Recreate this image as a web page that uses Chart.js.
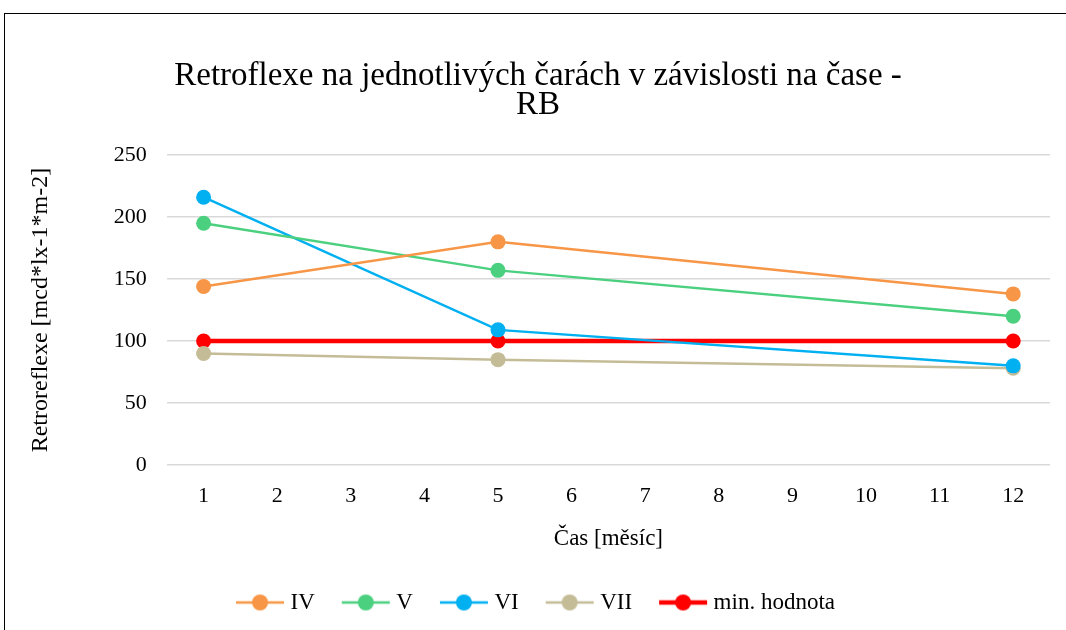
<!DOCTYPE html>
<html>
<head>
<meta charset="utf-8">
<script src="https://cdn.jsdelivr.net/npm/chart.js@4"></script>
<style>
  html, body { margin: 0; padding: 0; background: #fff; }
  #wrap { position: relative; width: 1066px; height: 630px; overflow: hidden; }
  #frame { position: absolute; left: 4px; top: 13px; width: 1100px; height: 700px; border: 1.5px solid #000; pointer-events: none; }
</style>
</head>
<body>
<div id="wrap">
  <canvas id="chart" width="1066" height="630"></canvas>
  <div id="frame"></div>
</div>
<script>
// months on the x axis, values only measured in months 1, 5 and 12
const months = ['1', '2', '3', '4', '5', '6', '7', '8', '9', '10', '11', '12'];
const seriesIV = [144, null, null, null, 180, null, null, null, null, null, null, 138];
const seriesV = [195, null, null, null, 157, null, null, null, null, null, null, 120];
const seriesVI = [216, null, null, null, 109, null, null, null, null, null, null, 80];
const seriesVII = [90, null, null, null, 85, null, null, null, null, null, null, 78];
const minValue = [100, null, null, null, 100, null, null, null, null, null, null, 100];
const yTicks = [0, 50, 100, 150, 200, 250];

const font = 'Liberation Serif, Times New Roman, serif';

// small line + dot icon for the legend
function legendIcon(color, lw) {
    const c = document.createElement('canvas');
    c.width = 50; c.height = 18;
    const g = c.getContext('2d');
    g.strokeStyle = color;
    g.lineWidth = lw;
    g.beginPath(); g.moveTo(1, 9); g.lineTo(49, 9); g.stroke();
    g.fillStyle = color;
    g.beginPath(); g.arc(25, 9, 8, 0, Math.PI * 2); g.fill();
    return c;
}

function makeSet(label, data, color, width) {
    return {
        label: label,
        data: data,
        borderColor: color,
        backgroundColor: color,
        borderWidth: width,
        pointRadius: 7.5,
        pointHoverRadius: 7.5,
        pointBorderWidth: 0,
        spanGaps: true,
        tension: 0,
        icon: legendIcon(color, width)
    };
}

const datasets = [
    makeSet('IV', seriesIV, '#f79646', 2.5),
    makeSet('V', seriesV, '#4bd07f', 2.5),
    makeSet('VI', seriesVI, '#00b0f0', 2.5),
    makeSet('VII', seriesVII, '#c4bc96', 2.5),
    makeSet('min. hodnota', minValue, '#ff0000', 4.5)
];

new Chart(document.getElementById('chart').getContext('2d'), {
    type: 'line',
    data: { labels: months, datasets: datasets },
    options: {
        responsive: false,
        animation: false,
        layout: { padding: { top: 62, left: 26, right: 16, bottom: 6 } },
        scales: {
            x: {
                offset: true,
                grid: { display: false },
                border: { display: false },
                ticks: { color: '#000', font: { family: font, size: 22 }, padding: 10 },
                title: { display: true, text: 'Čas [měsíc]', color: '#000', font: { family: font, size: 23 }, padding: { top: 6, bottom: 6 } }
            },
            y: {
                min: 0,
                max: 250,
                afterBuildTicks: function(axis) { axis.ticks = yTicks.map(v => ({ value: v })); },
                grid: { color: '#d9d9d9', lineWidth: 1.5, drawTicks: false },
                border: { display: false },
                ticks: { color: '#000', font: { family: font, size: 22 }, padding: 20 },
                title: { display: true, text: 'Retroreflexe [mcd*lx-1*m-2]', color: '#000', font: { family: font, size: 24 }, padding: { top: 0, bottom: 39 } }
            }
        },
        plugins: {
            title: {
                display: true,
                text: ['Retroflexe na jednotlivých čarách v závislosti na čase -', 'RB'],
                color: '#000',
                font: { family: font, size: 33, weight: 'normal', lineHeight: 0.88 },
                padding: { top: 0, bottom: 35 }
            },
            legend: {
                position: 'bottom',
                labels: {
                    usePointStyle: true,
                    pointStyleWidth: 38,
                    boxHeight: 18,
                    padding: 32,
                    color: '#000',
                    font: { family: font, size: 23 },
                    generateLabels: function(chart) {
                        const items = Chart.defaults.plugins.legend.labels.generateLabels(chart);
                        items.forEach(it => { it.pointStyle = chart.data.datasets[it.datasetIndex].icon; });
                        return items;
                    }
                }
            },
            tooltip: { enabled: false }
        }
    }
});
</script>
</body>
</html>
